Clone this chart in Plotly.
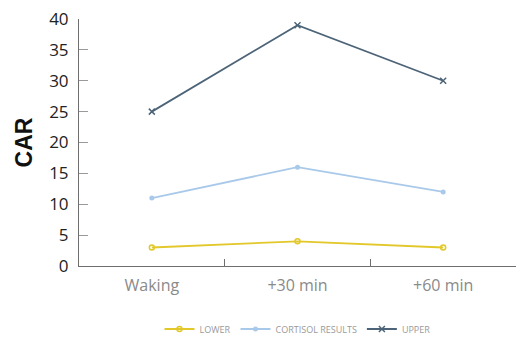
import plotly.graph_objects as go

categories = ["Waking", "+30 min", "+60 min"]
lower = [3, 4, 3]
cortisol = [11, 16, 12]
upper = [25, 39, 30]
y_ticks = [0, 5, 10, 15, 20, 25, 30, 35, 40]

fig = go.Figure()
fig.add_trace(go.Scatter(
    x=categories, y=lower, name="LOWER", mode="lines+markers",
    line=dict(color="#E2C82A", width=1.8),
    marker=dict(symbol="circle-open", size=5, color="#E2C82A", line=dict(width=1.5)),
))
fig.add_trace(go.Scatter(
    x=categories, y=cortisol, name="CORTISOL RESULTS", mode="lines+markers",
    line=dict(color="#A9C9EA", width=1.8),
    marker=dict(symbol="circle", size=5, color="#A9C9EA"),
))
fig.add_trace(go.Scatter(
    x=categories, y=upper, name="UPPER", mode="lines+markers",
    line=dict(color="#4D6478", width=1.8),
    marker=dict(symbol="x-thin", size=6, color="#4D6478", line=dict(width=1.5, color="#4D6478")),
))

fig.update_layout(
    width=520, height=349,
    margin=dict(l=79, r=4, t=19, b=83, autoexpand=False),
    paper_bgcolor="white", plot_bgcolor="white",
    font=dict(family="Open Sans, sans-serif"),
    showlegend=True,
    legend=dict(
        orientation="h", x=0.5, xanchor="center", y=-0.255, yanchor="middle",
        font=dict(size=9, color="#9a9a9a"),
    ),
    xaxis=dict(
        type="category", range=[-0.5, 2.5], automargin=False,
        showgrid=False, showline=True, linecolor="#6e6e6e", linewidth=1,
        ticks="inside", tickson="boundaries", ticklen=7, tickcolor="#6e6e6e",
        tickfont=dict(size=16, color="#8a8a8a"), ticklabelstandoff=5, zeroline=False,
    ),
    yaxis=dict(
        range=[0, 40], tickvals=y_ticks, automargin=False, showgrid=False, showline=True,
        linecolor="#6e6e6e", linewidth=1, ticks="inside", ticklen=9, tickcolor="#9a9a9a",
        tickfont=dict(size=17, color="#222222"), ticklabelstandoff=6, zeroline=False,
        title=dict(text="<b>CAR</b>", font=dict(size=23, color="#111111", family="Liberation Sans, Arial, sans-serif"), standoff=10),
    ),
)

fig.write_html("out.html")
